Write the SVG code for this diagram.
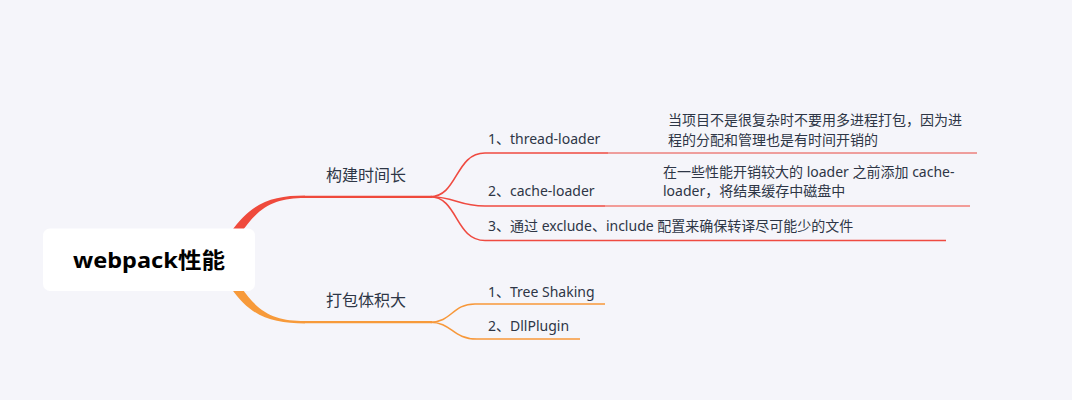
<svg xmlns="http://www.w3.org/2000/svg" width="1072" height="400" viewBox="0 0 1072 400">
<style>
.lbl{font-family:"Noto Sans","Noto Sans CJK SC",sans-serif;fill:#2e3646;}
.b1{font-size:16px;}
.sub{font-size:14px;}
.note{font-size:14px;}
.red{stroke:#ef4a40;fill:none;stroke-width:1.6;}
.org{stroke:#f7983a;fill:none;stroke-width:1.6;}
</style>
<rect width="1072" height="400" fill="#f5f5fa"/>
<g id="connectors">
  <path d="M231 232 C251 203 272 195.6 305 195.6 L305 198 C276 198 259 206 241 233 Z" fill="#ef4a3c"/>
  <path d="M305 196.8 L432 196.8" stroke="#ef4a3c" stroke-width="2.2" fill="none"/>
  <path d="M430 196.8 C458 196.8 455 153 485 153 L608 153" class="red"/>
  <path d="M430 196.8 C455 196.8 458 206 485 206 L605 206" class="red"/>
  <path d="M430 196.8 C458 196.8 455 240.5 485 240.5 L946 240.5" class="red"/>
  <path d="M608 153 L977 153" stroke="#e8463e" stroke-width="1" fill="none"/>
  <path d="M605 206 L970 206" stroke="#f29c98" stroke-width="1.8" fill="none"/>
  <path d="M231 288 C251 317 272 323.4 305 323.4 L305 321 C276 321 259 314 241 287 Z" fill="#f79a3a"/>
  <path d="M305 322.2 L432 322.2" stroke="#f79a3a" stroke-width="2.2" fill="none"/>
  <path d="M430 322.2 C452 322.2 452 304 475 304 L605 304" class="org"/>
  <path d="M430 322.2 C452 322.2 452 339 477 339 L580 339" class="org"/>
</g>
<g id="root">
  <rect x="43" y="228.5" width="212" height="62.5" rx="7" fill="#ffffff"/>
  <text x="149" y="268" text-anchor="middle" font-family="'Noto Sans','Noto Sans CJK SC',sans-serif" font-size="22" font-weight="bold" fill="#000" textLength="152" lengthAdjust="spacingAndGlyphs">webpack性能</text>
</g>
<g id="b-build">
  <text class="lbl b1" x="326" y="181">构建时间长</text>
</g>
<g id="b-size">
  <text class="lbl b1" x="326" y="306">打包体积大</text>
</g>
<g id="n-thread">
  <text class="lbl sub" x="488" y="144">1、thread-loader</text>
</g>
<g id="n-thread-note">
  <text class="lbl note" x="668" y="125">当项目不是很复杂时不要用多进程打包，因为进</text>
  <text class="lbl note" x="668" y="145">程的分配和管理也是有时间开销的</text>
</g>
<g id="n-cache">
  <text class="lbl sub" x="488" y="196">2、cache-loader</text>
</g>
<g id="n-cache-note">
  <text class="lbl note" x="663" y="177">在一些性能开销较大的 loader 之前添加 cache-</text>
  <text class="lbl note" x="663" y="196">loader，将结果缓存中磁盘中</text>
</g>
<g id="n-exclude">
  <text class="lbl sub" x="488" y="231">3、通过 exclude、include 配置来确保转译尽可能少的文件</text>
</g>
<g id="n-tree">
  <text class="lbl sub" x="488" y="297">1、Tree Shaking</text>
</g>
<g id="n-dll">
  <text class="lbl sub" x="488" y="331">2、DllPlugin</text>
</g>
</svg>
